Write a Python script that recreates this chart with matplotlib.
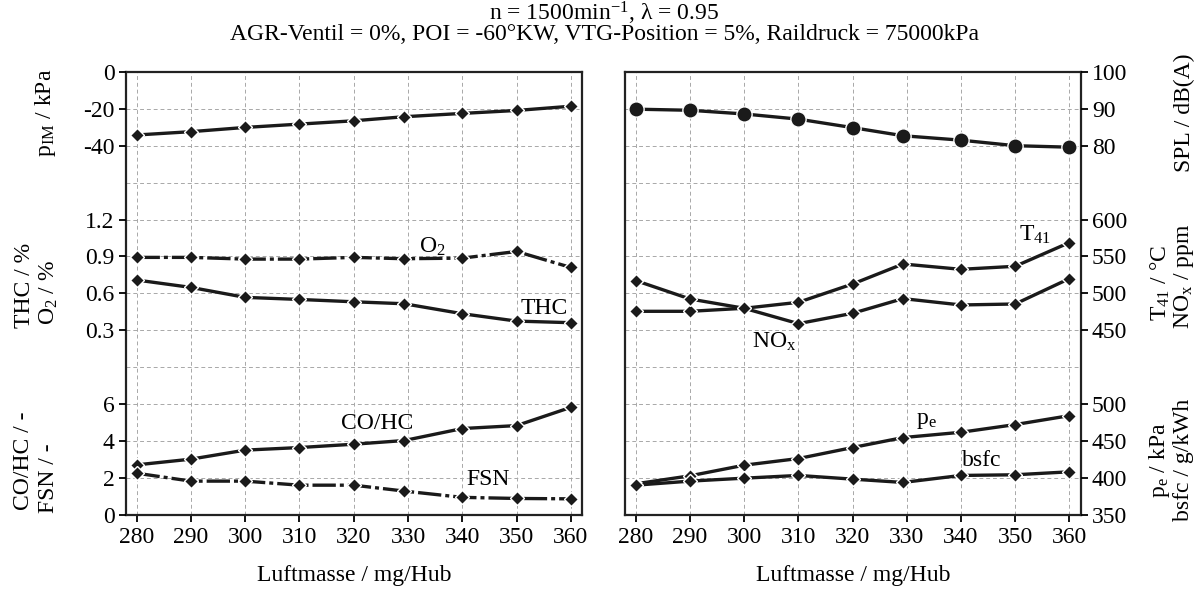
import matplotlib
matplotlib.use("Agg")
import matplotlib.pyplot as plt

# data
luftmasse = [280, 290, 300, 310, 320, 329.3, 340, 350, 360]
x_ticks = [280, 290, 300, 310, 320, 330, 340, 350, 360]

p_im = [-34.2, -32.4, -30.1, -28.3, -26.5, -24.3, -22.5, -20.9, -18.6]
o2 = [0.892, 0.892, 0.878, 0.878, 0.892, 0.881, 0.886, 0.94, 0.81]
thc = [0.708, 0.648, 0.567, 0.550, 0.531, 0.515, 0.434, 0.374, 0.361]
co_hc = [2.70, 3.01, 3.50, 3.64, 3.82, 4.02, 4.67, 4.83, 5.82]
fsn = [2.25, 1.82, 1.82, 1.60, 1.60, 1.28, 0.94, 0.88, 0.86]

spl = [89.9, 89.6, 88.6, 87.2, 84.9, 82.7, 81.5, 80.0, 79.6]
t41 = [475.6, 475.6, 479.7, 487.8, 512.6, 539.7, 532.5, 536.6, 568.7]
nox = [517.2, 492.3, 479.7, 458.9, 472.9, 492.8, 484.2, 485.5, 519.9]
pe = [391.9, 402.7, 417.1, 426.1, 441.0, 454.5, 461.7, 472.1, 484.2]
bsfc = [390.0, 395.5, 399.5, 403.2, 398.2, 393.7, 403.2, 404.1, 408.1]

plt.rcParams['font.family'] = ['Liberation Serif', 'DejaVu Serif']
plt.rcParams['mathtext.fontset'] = 'custom'
plt.rcParams['mathtext.rm'] = 'Liberation Serif'
plt.rcParams['mathtext.it'] = 'Liberation Serif'
plt.rcParams['axes.unicode_minus'] = False
plt.rcParams['font.size'] = 17

W, H = 1201, 589
fig = plt.figure(figsize=(W / 100, H / 100), dpi=100)

ybot = 1 - 514.7 / H
lev = 36.9 / H
grid_kw = dict(color='#a8a8a8', lw=0.7, ls=(0, (4, 3)))
line_kw = dict(color='#1a1a1a', lw=2.4, marker='D', ms=7.5, mec='white', mew=1.0, mfc='#1a1a1a')
dashdot = (0, (7, 1.2, 1.2, 1.2))
xlim = (278, 362.1)


def make_column(x0, x1, side):
    left = x0 / W
    width = (x1 - x0) / W
    frame = fig.add_axes([left, ybot, width, 12 * lev])
    frame.set_xlim(xlim)
    frame.set_ylim(0, 12)
    frame.set_xticks(x_ticks)
    frame.set_yticks(range(13))
    frame.tick_params(axis='y', length=0, labelleft=False)
    frame.tick_params(axis='x', direction='out', length=5, width=1.3, pad=4)
    frame.grid(True, **grid_kw)
    for s in frame.spines.values():
        s.set_linewidth(1.6)
        s.set_color('#222222')
    frame.set_xlabel('Luftmasse / mg/Hub', labelpad=12)

    axs = []
    for b, n in [(9, 3), (4, 5), (0, 4)]:
        a = fig.add_axes([left, ybot + b * lev, width, n * lev], sharex=frame)
        a.patch.set_visible(False)
        for s in a.spines.values():
            s.set_visible(False)
        a.tick_params(axis='x', bottom=False, labelbottom=False)
        a.tick_params(axis='y', direction='out', length=5, width=1.3, pad=3,
                      left=(side == 'left'), labelleft=(side == 'left'),
                      right=(side == 'right'), labelright=(side == 'right'))
        axs.append(a)
    return frame, axs


_, (la_top, la_mid, la_bot) = make_column(125.7, 582.3, 'left')
_, (ra_top, ra_mid, ra_bot) = make_column(625.0, 1080.7, 'right')

# left column
la_top.set_ylim(-60, 0)
la_top.set_yticks([-40, -20, 0])
la_top.plot(luftmasse, p_im, **line_kw)

la_mid.set_ylim(0, 1.5)
la_mid.set_yticks([0.3, 0.6, 0.9, 1.2])
la_mid.set_yticklabels(['0.3', '0.6', '0.9', '1.2'])
la_mid.plot(luftmasse, o2, ls=dashdot, **line_kw)
la_mid.plot(luftmasse, thc, **line_kw)
la_mid.text(334.5, 0.98, 'O$_2$', ha='center', va='center')
la_mid.text(355.1, 0.48, 'THC', ha='center', va='center')

la_bot.set_ylim(0, 8)
la_bot.set_yticks([0, 2, 4, 6])
la_bot.plot(luftmasse, co_hc, **line_kw)
la_bot.plot(luftmasse, fsn, ls=dashdot, **line_kw)
la_bot.text(324.4, 4.95, 'CO/HC', ha='center', va='center')
la_bot.text(344.8, 1.9, 'FSN', ha='center', va='center')

# right column
ra_top.set_ylim(70, 100)
ra_top.set_yticks([80, 90, 100])
ra_top.plot(luftmasse, spl, **dict(line_kw, marker='o', ms=11))

ra_mid.set_ylim(400, 650)
ra_mid.set_yticks([450, 500, 550, 600])
ra_mid.plot(luftmasse, t41, **line_kw)
ra_mid.plot(luftmasse, nox, **line_kw)
ra_mid.text(353.6, 578.6, 'T$_{41}$', ha='center', va='center')
ra_mid.text(305.5, 434, 'NO$_x$', ha='center', va='center')

ra_bot.set_ylim(350, 550)
ra_bot.set_yticks([350, 400, 450, 500])
ra_bot.plot(luftmasse, pe, **line_kw)
ra_bot.plot(luftmasse, bsfc, **line_kw)
ra_bot.text(333.6, 478, 'p$_e$', ha='center', va='center')
ra_bot.text(343.8, 423, 'bsfc', ha='center', va='center')

# axis titles
def ylab(x, y, s):
    fig.text(x / W, 1 - y / H, s, rotation=90, ha='center', va='center')

ylab(46, 113, 'p$_{IM}$ / kPa')
ylab(24, 285, 'THC / %')
ylab(49, 292, 'O$_2$ / %')
ylab(24, 461, 'CO/HC / -')
ylab(49, 478, 'FSN / -')
ylab(1184, 113, 'SPL / dB(A)')
ylab(1160, 283, 'T$_{41}$ / °C')
ylab(1184, 276, 'NO$_x$ / ppm')
ylab(1160, 460, 'p$_e$ / kPa')
ylab(1184, 460, 'bsfc / g/kWh')

fig.text(604 / W, 1 - 13 / H, 'n = 1500min$^{-1}$, λ = 0.95', ha='center', va='center')
fig.text(604 / W, 1 - 35 / H,
         'AGR-Ventil = 0%, POI = -60°KW, VTG-Position = 5%, Raildruck = 75000kPa',
         ha='center', va='center')

fig.savefig('out.png', dpi=100)
